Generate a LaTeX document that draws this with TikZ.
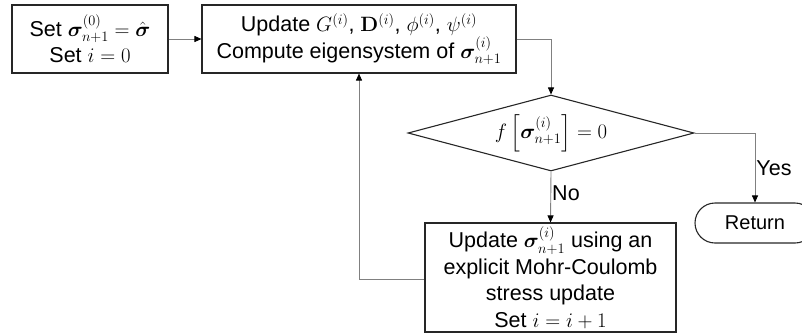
\documentclass[tikz,border=0pt]{standalone}
\usepackage{amsmath,bm}
\usepackage[no-math]{fontspec}
\setmainfont{Liberation Sans}
\usetikzlibrary{shapes.geometric,shapes.misc,arrows.meta}
\begin{document}
\begin{tikzpicture}[x=1pt,y=-1pt,
  every node/.style={font=\fontsize{21.5}{26.5}\selectfont},
  procbox/.style={draw=black!85,line width=1.1pt,rectangle,align=center,inner sep=0pt},
  decbox/.style={draw=black!85,line width=1.1pt,diamond,aspect=3.76,minimum width=286pt,minimum height=76pt,inner sep=0pt},
  endbox/.style={draw=black!85,line width=1.1pt,rounded rectangle,minimum width=120pt,minimum height=40pt,inner sep=0pt},
  conn/.style={draw=black!50,line width=0.9pt,-{Triangle[length=7pt,width=6pt,fill=black,color=black]}},
  lbl/.style={inner sep=1pt}]
\useasboundingbox (0,0) rectangle (802,333);
\node[procbox,minimum width=156pt,minimum height=68pt] (b1) at (90,39)
  {Set $\bm{\sigma}^{(0)}_{n+1}=\hat{\bm{\sigma}}$\\ Set $i=0$};
\node[procbox,minimum width=314pt,minimum height=68pt] (b2) at (359,39)
  {Update $G^{(i)}$, $\mathbf{D}^{(i)}$, $\phi^{(i)}$, $\psi^{(i)}$\\ Compute eigensystem of $\bm{\sigma}^{(i)}_{n+1}$};
\node[decbox] (d) at (551,133) {$f\left[\bm{\sigma}^{(i)}_{n+1}\right]=0$};
\node[procbox,minimum width=251pt,minimum height=109pt] (b3) at (550.5,277.5)
  {Update $\bm{\sigma}^{(i)}_{n+1}$ using an\\ explicit Mohr-Coulomb\\ stress update\\ Set $i=i+1$};
\node[endbox,font=\fontsize{20}{24}\selectfont] (r) at (755,223) {Return};
\coordinate (c1) at (551,39);
\coordinate (c2) at (755,133);
\coordinate (c3) at (359,279);
\draw[conn] (b1.east) -- (b2.west);
\draw[conn] (b2.east) -- (c1) -- (d.north);
\draw[conn] (d.east) -- (c2) -- node[lbl,right,pos=0.5] {Yes} (r.north);
\draw[conn] (d.south) -- node[lbl,right,pos=0.42] {No} (b3.north);
\draw[conn] (b3.west |- c3) -- (c3) -- (b2.south -| c3);
\end{tikzpicture}
\end{document}
